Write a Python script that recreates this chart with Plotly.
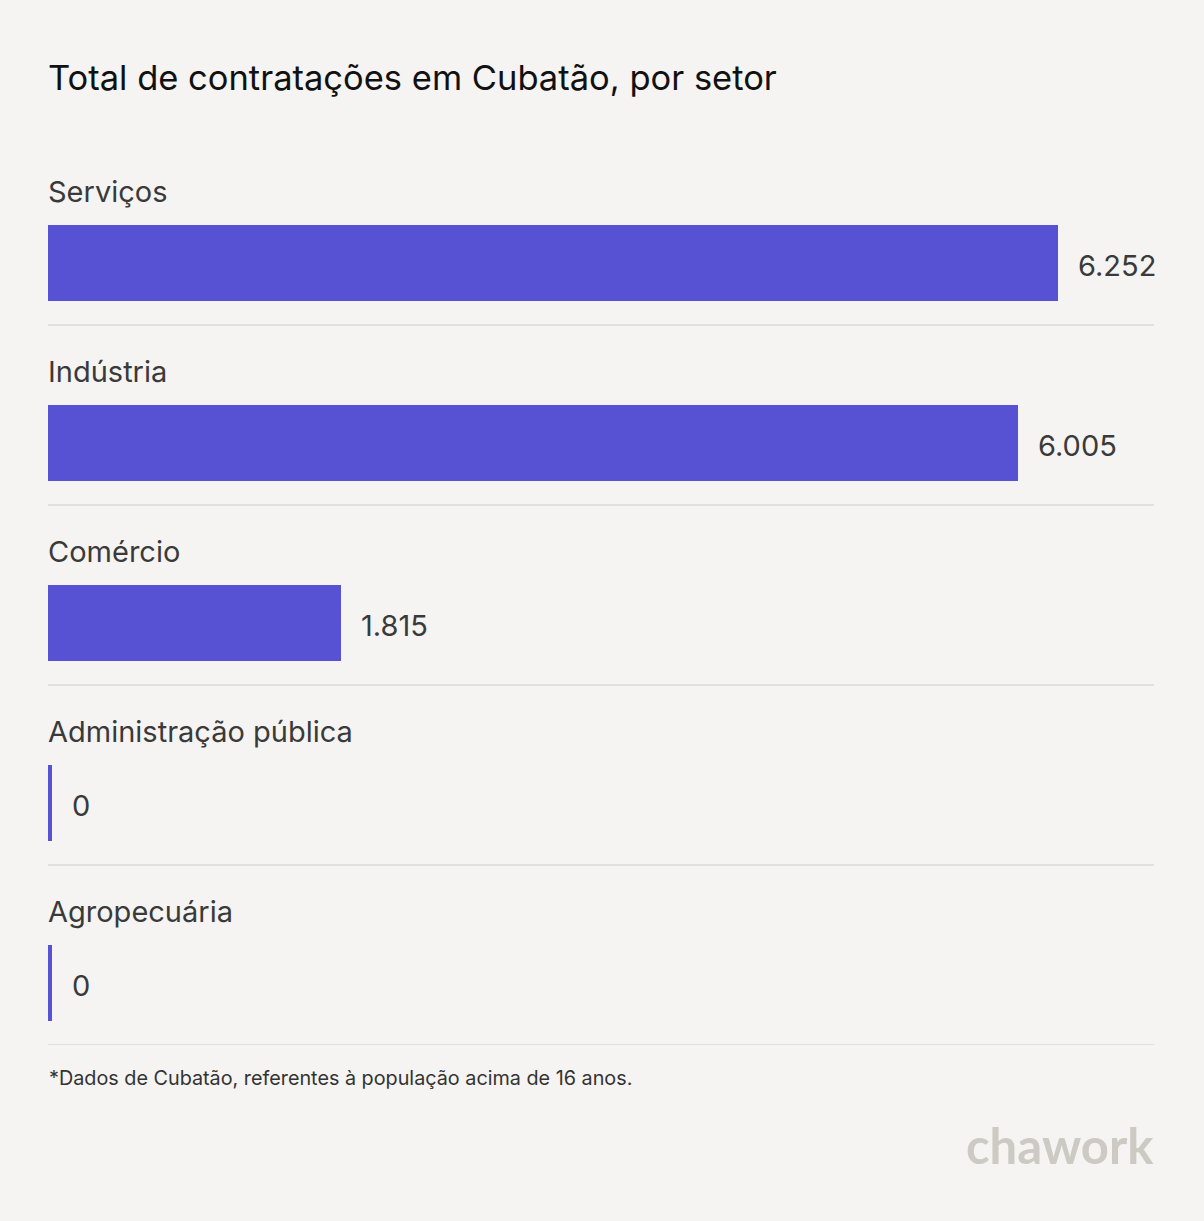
import plotly.graph_objects as go

categories = ["Serviços", "Indústria", "Comércio", "Administração pública", "Agropecuária"]
values = [6252, 6005, 1815, 0, 0]
value_labels = ["6.252", "6.005", "1.815", "0", "0"]

title_text = "Total de contratações em Cubatão, por setor"
footnote_text = "*Dados de Cubatão, referentes à população acima de 16 anos."
logo_text = "chawork"

W, H = 1204, 1221
ML, MR, MT, MB = 48, 50, 145, 176
PH = H - MT - MB
BG = "#f5f4f2"
BAR = "#5752d3"
TXT = "#3a3a3a"
FONT = "Inter, Noto Sans, sans-serif"

n = len(categories)
bar_off = 118 / 180
lab_off = 46 / 180
bar_w = 76 / 180

def py(pix):
    # page pixel y -> paper y
    return (H - MB - pix) / PH

fig = go.Figure()
fig.add_trace(go.Bar(
    x=values,
    y=[i + bar_off for i in range(n)],
    orientation="h",
    width=bar_w,
    marker=dict(color=BAR, line=dict(width=0)),
    hoverinfo="skip",
))

annotations = []
shapes = []
for i, (c, v, lab) in enumerate(zip(categories, values, value_labels)):
    annotations.append(dict(
        x=0, y=i + lab_off, xref="x", yref="y", text=c, showarrow=False,
        xanchor="left", yanchor="middle", xshift=-2,
        font=dict(family=FONT, size=29, color=TXT),
    ))
    annotations.append(dict(
        x=v, y=i + bar_off, xref="x", yref="y", text=lab, showarrow=False,
        xanchor="left", yanchor="middle", xshift=(18 if v > 0 else 22), yshift=-2,
        font=dict(family=FONT, size=29, color=TXT),
    ))
    shapes.append(dict(
        type="line", xref="paper", yref="y", x0=0, x1=1, y0=i + 1, y1=i + 1,
        line=dict(color="#e1e0dd", width=2),
    ))
    if v == 0:
        shapes.append(dict(
            type="rect", xref="x", yref="y", xsizemode="pixel", xanchor=0,
            x0=0, x1=4, y0=i + bar_off - bar_w / 2, y1=i + bar_off + bar_w / 2,
            fillcolor=BAR, line=dict(width=0),
        ))

annotations.append(dict(
    x=0, y=py(78), xref="paper", yref="paper", text=title_text, showarrow=False,
    xanchor="left", yanchor="middle", xshift=-2,
    font=dict(family=FONT, size=34.5, color="#111111"),
))
annotations.append(dict(
    x=0, y=py(1078), xref="paper", yref="paper", text=footnote_text, showarrow=False,
    xanchor="left", yanchor="middle", xshift=-1,
    font=dict(family=FONT, size=19.8, color="#333333"),
))
annotations.append(dict(
    x=1, y=py(1145), xref="paper", yref="paper", text="<b>" + logo_text + "</b>", showarrow=False,
    xanchor="right", yanchor="middle", xshift=2,
    font=dict(family="Lato, Inter, sans-serif", size=49, color="#cdcac4"),
))

fig.update_layout(
    width=W, height=H,
    margin=dict(l=ML, r=MR, t=MT, b=MB, pad=0),
    paper_bgcolor=BG, plot_bgcolor=BG,
    showlegend=False,
    bargap=0,
    xaxis=dict(range=[0, 6846], visible=False, fixedrange=True),
    yaxis=dict(range=[n, 0], visible=False, fixedrange=True),
    annotations=annotations,
    shapes=shapes,
)

fig.write_html(
    "out.html",
    config={"displayModeBar": False},
    post_script="document.body.style.margin='0';document.body.style.background='%s';" % BG,
)
